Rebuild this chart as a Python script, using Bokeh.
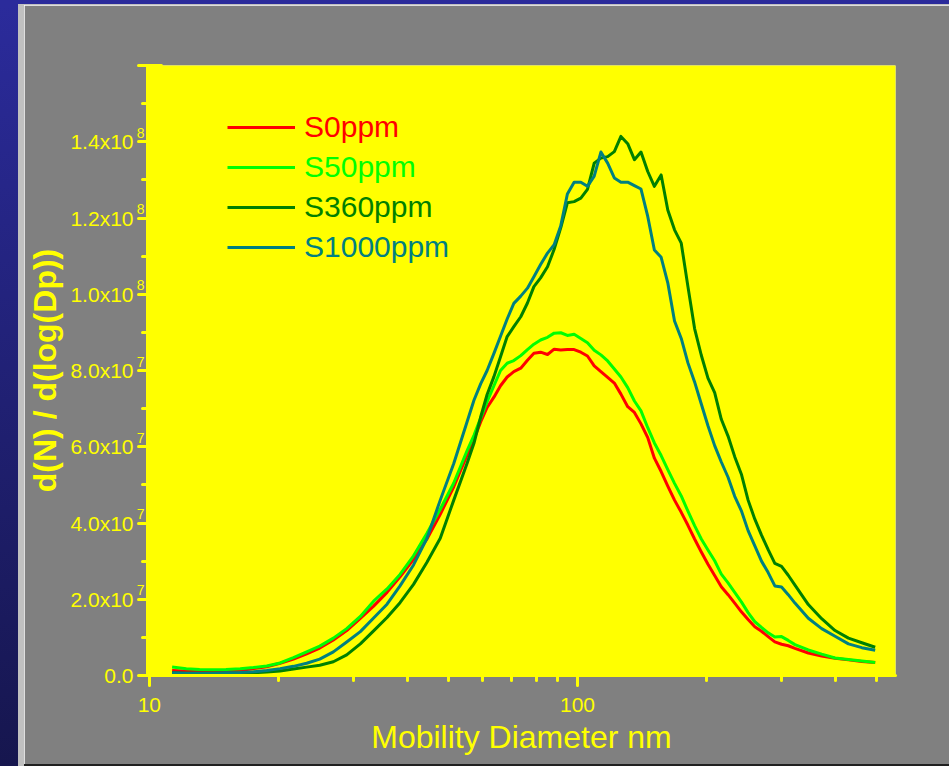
from bokeh.plotting import figure
from bokeh.models import (FixedTicker, Legend, LegendItem, Div, Range1d,
                          LinearAxis)
from bokeh.layouts import row, column
from bokeh.embed import file_html
from bokeh.resources import INLINE

# ---------------- data (mobility diameter, nm) ----------------
diameter_nm = [11.3, 12.2, 13.1, 14.1, 15.1, 16.3, 17.5, 18.8, 20.2, 21.7,
               23.3, 25.0, 26.9, 28.9, 31.1, 33.4, 35.9, 38.5, 41.4, 44.5,
               47.8, 51.4, 55.2, 57.3, 59.4, 61.5, 63.8, 66.1, 68.5, 71.0,
               73.7, 76.4, 79.1, 82.0, 85.1, 88.2, 91.4, 94.7, 98.2, 101.8,
               105.5, 109.4, 113.4, 117.6, 121.9, 126.3, 131.0, 135.8, 140.7, 145.9,
               151.2, 156.8, 162.5, 168.5, 174.7, 181.1, 187.7, 194.6, 201.7, 209.1,
               216.7, 224.7, 232.9, 241.4, 250.3, 259.5, 269.0, 278.8, 289.0, 299.6,
               310.6, 322.0, 346.0, 371.8, 399.5, 429.4, 461.4, 495.8]

# dN/dlogDp in units of 1e8
s0ppm = [0.013, 0.011, 0.010, 0.011, 0.012, 0.014, 0.018, 0.023, 0.032, 0.043,
         0.057, 0.072, 0.093, 0.118, 0.150, 0.182, 0.218, 0.259, 0.305, 0.358,
         0.423, 0.495, 0.578, 0.620, 0.665, 0.703, 0.730, 0.760, 0.783, 0.797,
         0.806, 0.827, 0.845, 0.848, 0.842, 0.856, 0.854, 0.855, 0.855, 0.848,
         0.838, 0.812, 0.797, 0.782, 0.767, 0.738, 0.705, 0.690, 0.660, 0.624,
         0.570, 0.535, 0.497, 0.460, 0.428, 0.394, 0.358, 0.324, 0.292, 0.262,
         0.233, 0.212, 0.190, 0.167, 0.147, 0.128, 0.116, 0.102, 0.088, 0.082,
         0.078, 0.071, 0.059, 0.051, 0.045, 0.041, 0.037, 0.034]

s50ppm = [0.022, 0.018, 0.016, 0.015, 0.016, 0.018, 0.021, 0.025, 0.033, 0.047,
          0.062, 0.077, 0.098, 0.123, 0.155, 0.195, 0.227, 0.265, 0.314, 0.373,
          0.436, 0.505, 0.589, 0.630, 0.675, 0.718, 0.760, 0.800, 0.819, 0.826,
          0.839, 0.855, 0.869, 0.880, 0.887, 0.898, 0.899, 0.892, 0.895, 0.884,
          0.873, 0.853, 0.841, 0.825, 0.804, 0.783, 0.755, 0.720, 0.694, 0.650,
          0.610, 0.577, 0.540, 0.504, 0.471, 0.431, 0.393, 0.358, 0.329, 0.301,
          0.266, 0.243, 0.218, 0.193, 0.165, 0.141, 0.126, 0.112, 0.101, 0.102,
          0.092, 0.081, 0.067, 0.056, 0.046, 0.042, 0.038, 0.034]

s360ppm = [0.007, 0.006, 0.006, 0.006, 0.006, 0.006, 0.007, 0.009, 0.012, 0.017,
           0.022, 0.027, 0.036, 0.054, 0.083, 0.117, 0.152, 0.191, 0.239, 0.297,
           0.360, 0.460, 0.556, 0.609, 0.678, 0.737, 0.784, 0.836, 0.889, 0.915,
           0.941, 0.977, 1.020, 1.043, 1.072, 1.118, 1.175, 1.240, 1.243, 1.252,
           1.275, 1.344, 1.357, 1.361, 1.374, 1.414, 1.395, 1.353, 1.373, 1.322,
           1.283, 1.313, 1.221, 1.169, 1.134, 1.020, 0.910, 0.840, 0.780, 0.742,
           0.672, 0.628, 0.574, 0.528, 0.460, 0.410, 0.368, 0.330, 0.294, 0.286,
           0.263, 0.237, 0.186, 0.149, 0.118, 0.098, 0.086, 0.074]

s1000ppm = [0.007, 0.006, 0.006, 0.006, 0.007, 0.008, 0.010, 0.013, 0.018, 0.024,
            0.032, 0.043, 0.062, 0.088, 0.115, 0.151, 0.187, 0.235, 0.290, 0.360,
            0.460, 0.556, 0.665, 0.722, 0.765, 0.800, 0.845, 0.890, 0.935, 0.976,
            0.995, 1.016, 1.046, 1.078, 1.108, 1.130, 1.180, 1.263, 1.294, 1.294,
            1.283, 1.310, 1.373, 1.344, 1.305, 1.294, 1.294, 1.285, 1.276, 1.204,
            1.116, 1.097, 1.030, 0.930, 0.884, 0.820, 0.770, 0.712, 0.655, 0.603,
            0.560, 0.520, 0.470, 0.432, 0.380, 0.340, 0.300, 0.270, 0.235, 0.232,
            0.212, 0.190, 0.150, 0.123, 0.103, 0.083, 0.073, 0.066]

UNIT = 1e8

series_names = ["S0ppm", "S50ppm", "S360ppm", "S1000ppm"]
series_values = [s0ppm, s50ppm, s360ppm, s1000ppm]
series_colors = ["#FF0000", "#00FF00", "#008000", "#008080"]

y_major_ticks = [0, 2e7, 4e7, 6e7, 8e7, 1e8, 1.2e8, 1.4e8, 1.6e8]
y_major_labels = ["0.0", "2.0x10", "4.0x10", "6.0x10", "8.0x10",
                  "1.0x10", "1.2x10", "1.4x10", ""]
y_label_exponents = ["", "7", "7", "7", "7", "8", "8", "8", ""]
y_minor_ticks = [1e7, 3e7, 5e7, 7e7, 9e7, 1.1e8, 1.3e8, 1.5e8]
x_major_ticks = [10, 100]
x_major_labels = ["10", "100"]
x_minor_ticks = [20, 30, 40, 50, 60, 70, 80, 90, 200, 300, 400, 500]

FONT = "Liberation Sans"
YELLOW = "#FFFF00"
Y_MAX = 1.6e8
FRAME_H = 610
SUP_SHIFT = 9 * Y_MAX / FRAME_H   # raise exponents by ~9 px

p = figure(width=925, height=759, x_axis_type="log", y_axis_location=None,
           x_range=Range1d(9.9, 553), y_range=Range1d(0, Y_MAX),
           output_backend="svg", toolbar_location=None,
           min_border_left=122, min_border_right=54,
           min_border_top=60, min_border_bottom=89)
p.background_fill_color = YELLOW
p.border_fill_color = "#808080"
p.outline_line_color = None
p.grid.visible = False
p.extra_y_ranges = {"sup": Range1d(-SUP_SHIFT, Y_MAX - SUP_SHIFT)}

renderers = []
for vals, col in zip(series_values, series_colors):
    r = p.line(diameter_nm, [v * UNIT for v in vals], line_color=col,
               line_width=3, line_join="round")
    renderers.append(r)

# --- y axis, innermost: tick marks only
ya_ticks = LinearAxis(ticker=FixedTicker(ticks=y_major_ticks, minor_ticks=y_minor_ticks))
ya_ticks.major_label_overrides = {int(t): "" for t in y_major_ticks}
ya_ticks.major_label_text_font_size = "1px"
ya_ticks.major_label_standoff = 0
ya_ticks.axis_line_color = YELLOW
ya_ticks.axis_line_width = 3
for attr in ("major_tick_line_color", "minor_tick_line_color"):
    setattr(ya_ticks, attr, YELLOW)
ya_ticks.major_tick_line_width = 3
ya_ticks.minor_tick_line_width = 3
ya_ticks.major_tick_line_cap = "round"
ya_ticks.minor_tick_line_cap = "round"
ya_ticks.major_tick_out = 9
ya_ticks.major_tick_in = 14
ya_ticks.minor_tick_out = 5
ya_ticks.minor_tick_in = 0
p.add_layout(ya_ticks, "left")

# --- y axis, middle: raised exponents of the tick labels
ya_sup = LinearAxis(y_range_name="sup",
                    ticker=FixedTicker(ticks=y_major_ticks, minor_ticks=[]))
ya_sup.major_label_overrides = {int(t): ex for t, ex in zip(y_major_ticks, y_label_exponents)}
ya_sup.major_label_text_font = FONT
ya_sup.major_label_text_font_size = "14px"
ya_sup.major_label_text_color = YELLOW
ya_sup.major_label_standoff = -6
ya_sup.axis_line_color = None
ya_sup.major_tick_line_color = None
ya_sup.minor_tick_line_color = None
ya_sup.major_tick_out = 0
ya_sup.major_tick_in = 0
ya_sup.minor_tick_out = 0
p.add_layout(ya_sup, "left")

# --- y axis, outer: mantissa labels and title
ya = LinearAxis(ticker=FixedTicker(ticks=y_major_ticks, minor_ticks=[]))
ya.major_label_overrides = {int(t): lab for t, lab in zip(y_major_ticks, y_major_labels)}
ya.axis_label = "d(N) / d(log(Dp))"
ya.axis_label_text_font = FONT
ya.axis_label_text_font_style = "bold"
ya.axis_label_text_font_size = "32px"
ya.axis_label_text_color = YELLOW
ya.axis_label_standoff = 4
ya.major_label_text_font = FONT
ya.major_label_text_font_size = "21px"
ya.major_label_text_color = YELLOW
ya.major_label_standoff = 0
ya.axis_line_color = None
ya.major_tick_line_color = None
ya.minor_tick_line_color = None
ya.major_tick_out = 0
ya.major_tick_in = 0
ya.minor_tick_out = 0
p.add_layout(ya, "left")

# x axis
xa = p.xaxis[0]
xa.ticker = FixedTicker(ticks=x_major_ticks, minor_ticks=x_minor_ticks)
xa.major_label_overrides = {t: lab for t, lab in zip(x_major_ticks, x_major_labels)}
xa.axis_label = "Mobility Diameter nm"
xa.axis_label_text_font = FONT
xa.axis_label_text_font_style = "normal"
xa.axis_label_text_font_size = "32px"
xa.axis_label_text_color = YELLOW
xa.axis_label_standoff = 4
xa.major_label_text_font = FONT
xa.major_label_text_font_size = "21px"
xa.major_label_text_color = YELLOW
xa.major_label_standoff = 12
xa.axis_line_color = YELLOW
xa.axis_line_width = 3
xa.axis_line_cap = "round"
xa.major_tick_line_color = YELLOW
xa.minor_tick_line_color = YELLOW
xa.major_tick_line_width = 3
xa.minor_tick_line_width = 3
xa.major_tick_line_cap = "round"
xa.minor_tick_line_cap = "round"
xa.major_tick_out = 10
xa.major_tick_in = 0
xa.minor_tick_out = 5
xa.minor_tick_in = 0

# legends: one per series so each label gets its own colour
for i, (name, r, col) in enumerate(zip(series_names, renderers, series_colors)):
    leg = Legend(items=[LegendItem(label=name, renderers=[r])],
                 location=(80, 528 - 40 * i),
                 padding=0, margin=0, spacing=0,
                 glyph_width=68, glyph_height=40, label_height=40,
                 label_standoff=9,
                 label_text_font=FONT, label_text_font_size="30px",
                 label_text_color=col,
                 border_line_color=None, background_fill_alpha=0)
    p.add_layout(leg)

blue_top = Div(text="", width=949, height=4, margin=0,
               styles={"background-color": "#2B2B9B"})
blue_left = Div(text="", width=18, height=762, margin=0,
                styles={"background": "linear-gradient(#2B2B9B, #16164E)"})
grey_left = Div(text="", width=6, height=762, margin=0,
                styles={"background-color": "#C0C0C0"})
grey_top = Div(text="", width=925, height=1, margin=0,
               styles={"background-color": "#C0C0C0"})
dark_bottom = Div(text="", width=925, height=2, margin=0,
                  styles={"background-color": "#202020"})

layout = column(blue_top,
                row(blue_left, grey_left, column(grey_top, p, dark_bottom, spacing=0), spacing=0),
                spacing=0)

open("out.html", "w").write(file_html(layout, INLINE))
